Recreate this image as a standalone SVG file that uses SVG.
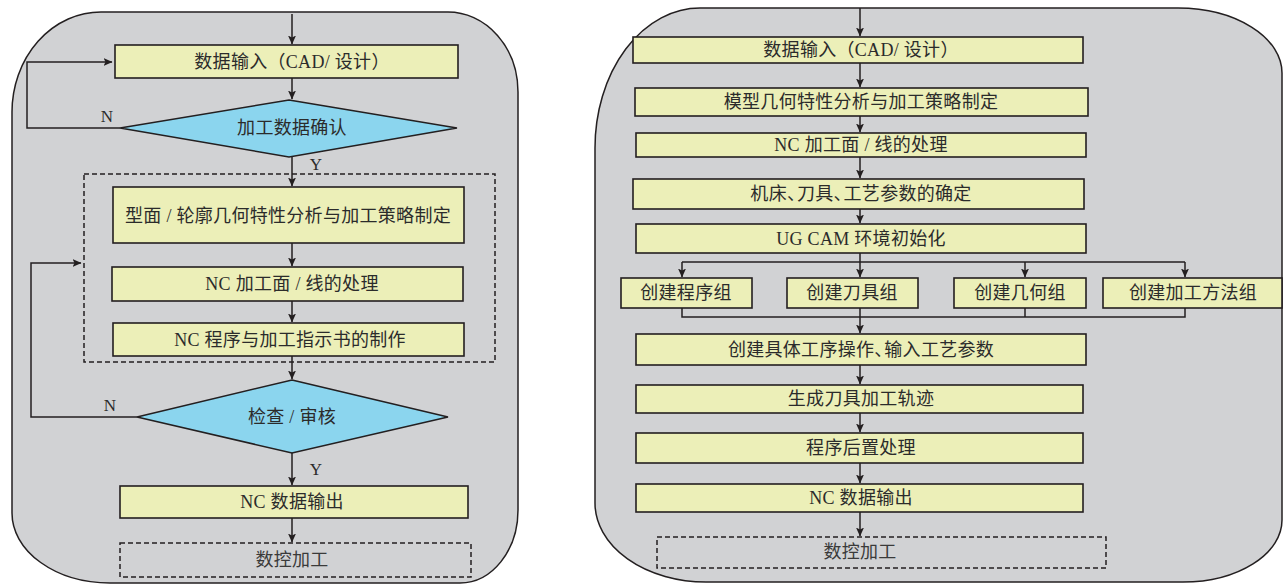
<svg xmlns="http://www.w3.org/2000/svg" width="1283" height="584" viewBox="0 0 1283 584">
<defs>
<style>
.panel{fill:#d1d2d4;stroke:#231f20;stroke-width:1.5}
.box{fill:#ecefb8;stroke:#231f20;stroke-width:1.6}
.dia{fill:#8bd5ee;stroke:#231f20;stroke-width:1.5}
.dash{fill:none;stroke:#231f20;stroke-width:1.5;stroke-dasharray:5 3}
.ln{fill:none;stroke:#231f20;stroke-width:1.5}
.arr{marker-end:url(#ah)}
.t{font-family:"Liberation Serif","Noto Sans CJK SC",serif;font-size:18px;fill:#2b2b2b;text-anchor:middle;dominant-baseline:central;letter-spacing:0.3px}
.lb{font-family:"Liberation Serif",serif;font-size:17px;fill:#2b2b2b;text-anchor:middle;dominant-baseline:central}
.cm{letter-spacing:-8px}
</style>
<marker id="ah" markerUnits="userSpaceOnUse" markerWidth="9" markerHeight="8" refX="8.5" refY="4" orient="auto">
<path d="M0,0 L9,4 L0,8 L2,4 Z" fill="#231f20"/>
</marker>
</defs>

<g id="panel-left"><path class="panel" d="M101,12 H448 A70,80 0 0 1 518,92 V510 A58,73 0 0 1 460,583 H110 A98,70 0 0 1 12,513 V112 A89,100 0 0 1 101,12 Z"/></g>
<g id="panel-right"><path class="panel" d="M700,8 H1178 A104,65 0 0 1 1282,73 V520 A99,62 0 0 1 1183,582 H706 A111,79 0 0 1 595,503 V148 A105,140 0 0 1 700,8 Z"/></g>

<g id="group-left"><rect class="dash" x="84" y="174" width="411" height="188"/></g>

<g id="connectors">
<path class="ln arr" d="M292,14 V44"/>
<path class="ln arr" d="M292,78 V99"/>
<path class="ln arr" d="M120,128 H27 V62 H112"/>
<path class="ln arr" d="M292,157 V186"/>
<path class="ln arr" d="M292,243 V266"/>
<path class="ln arr" d="M292,301 V322"/>
<path class="ln arr" d="M292,356 V379"/>
<path class="ln arr" d="M137,417 H31 V263 H81"/>
<path class="ln arr" d="M292,453 V485"/>
<path class="ln arr" d="M292,518 V542"/>

<path class="ln arr" d="M860,8 V36"/>
<path class="ln arr" d="M860,63 V87"/>
<path class="ln arr" d="M860,116 V132"/>
<path class="ln arr" d="M860,157 V178"/>
<path class="ln arr" d="M860,209 V223"/>
<path class="ln" d="M860,253 V262 M682,262 H1185"/>
<path class="ln arr" d="M682,262 V277"/>
<path class="ln arr" d="M860,262 V277"/>
<path class="ln arr" d="M1025,262 V277"/>
<path class="ln arr" d="M1185,262 V277"/>
<path class="ln" d="M682,308 V317 H1185 V308 M860,308 V317 M1025,308 V317"/>
<path class="ln arr" d="M860,317 V333"/>
<path class="ln arr" d="M860,365 V384"/>
<path class="ln arr" d="M860,413 V432"/>
<path class="ln arr" d="M860,463 V483"/>
<path class="ln arr" d="M860,512 V536"/>
</g>

<g id="labels">
<text class="lb" x="107" y="116">N</text>
<text class="lb" x="316" y="164">Y</text>
<text class="lb" x="110" y="405">N</text>
<text class="lb" x="316" y="469">Y</text>
</g>

<g id="L1"><rect class="box" x="115" y="45" width="343" height="33"/><text class="t" x="292" y="62">数据输入（CAD/ 设计）</text></g>
<g id="L2"><polygon class="dia" points="289,100 457,128 289,157 120,128"/><text class="t" x="292" y="128">加工数据确认</text></g>
<g id="L3"><rect class="box" x="113" y="187" width="351" height="56"/><text class="t" x="288" y="216">型面 / 轮廓几何特性分析与加工策略制定</text></g>
<g id="L4"><rect class="box" x="112" y="267" width="351" height="34"/><text class="t" x="292" y="284">NC 加工面 / 线的处理</text></g>
<g id="L5"><rect class="box" x="113" y="323" width="351" height="33"/><text class="t" x="290" y="340">NC 程序与加工指示书的制作</text></g>
<g id="L6"><polygon class="dia" points="292,380 448,417 292,453 137,417"/><text class="t" x="292" y="417">检查 / 审核</text></g>
<g id="L7"><rect class="box" x="120" y="486" width="348" height="32"/><text class="t" x="292" y="502">NC 数据输出</text></g>
<g id="L8"><rect class="dash" x="120" y="543" width="351" height="34"/><text class="t" x="292" y="560" style="fill:#3a3a3a">数控加工</text></g>

<g id="R1"><rect class="box" x="633" y="37" width="450" height="26"/><text class="t" x="861" y="50">数据输入（CAD/ 设计）</text></g>
<g id="R2"><rect class="box" x="635" y="88" width="453" height="28"/><text class="t" x="861" y="102">模型几何特性分析与加工策略制定</text></g>
<g id="R3"><rect class="box" x="636" y="133" width="450" height="24"/><text class="t" x="861" y="145">NC 加工面 / 线的处理</text></g>
<g id="R4"><rect class="box" x="633" y="179" width="451" height="30"/><text class="t" x="861" y="194">机床<tspan class="cm">、</tspan>刀具<tspan class="cm">、</tspan>工艺参数的确定</text></g>
<g id="R5"><rect class="box" x="636" y="224" width="450" height="29"/><text class="t" x="861" y="239">UG CAM 环境初始化</text></g>
<g id="R6a"><rect class="box" x="621" y="278" width="131" height="30"/><text class="t" x="686" y="293">创建程序组</text></g>
<g id="R6b"><rect class="box" x="787" y="278" width="131" height="30"/><text class="t" x="852" y="293">创建刀具组</text></g>
<g id="R6c"><rect class="box" x="954" y="278" width="132" height="30"/><text class="t" x="1020" y="293">创建几何组</text></g>
<g id="R6d"><rect class="box" x="1103" y="278" width="179" height="30"/><text class="t" x="1193" y="293">创建加工方法组</text></g>
<g id="R7"><rect class="box" x="636" y="334" width="450" height="31"/><text class="t" x="861" y="350">创建具体工序操作<tspan class="cm">、</tspan>输入工艺参数</text></g>
<g id="R8"><rect class="box" x="636" y="385" width="447" height="28"/><text class="t" x="861" y="399">生成刀具加工轨迹</text></g>
<g id="R9"><rect class="box" x="636" y="433" width="447" height="30"/><text class="t" x="861" y="448">程序后置处理</text></g>
<g id="R10"><rect class="box" x="636" y="484" width="447" height="28"/><text class="t" x="861" y="498">NC 数据输出</text></g>
<g id="R11"><rect class="dash" x="657" y="537" width="449" height="31"/><text class="t" x="860" y="552" style="fill:#3a3a3a">数控加工</text></g>
</svg>
